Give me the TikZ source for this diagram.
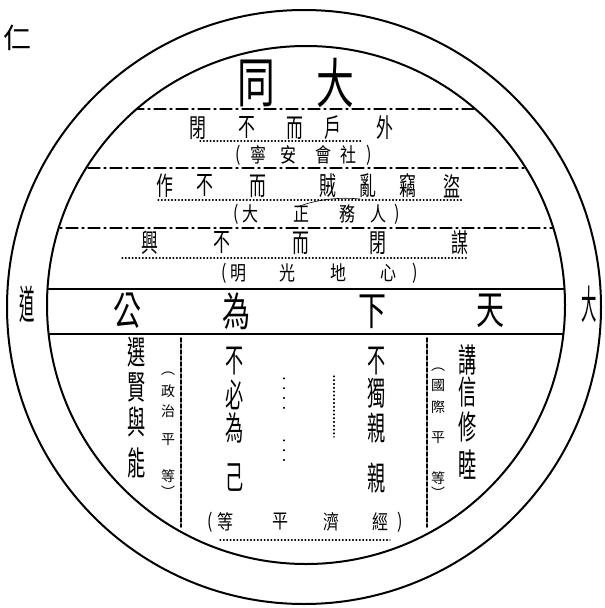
\documentclass[tikz,border=0pt]{standalone}
\usepackage{fontspec}
\newfontfamily\cjk{Noto Sans CJK TC}

\begin{document}
\begin{tikzpicture}[x=1pt, y=-1pt, line join=round, line cap=round,
    bigch/.style={font=\cjk\fontsize{54}{54}\selectfont, inner sep=0pt, xscale=0.7},
    rowch/.style={font=\cjk\fontsize{26}{26}\selectfont, inner sep=0pt, xscale=0.65},
    parch/.style={font=\cjk\fontsize{20}{20}\selectfont, inner sep=0pt, xscale=0.8},
    bandch/.style={font=\cjk\fontsize{40}{40}\selectfont, inner sep=0pt, xscale=0.7},
    colch/.style={font=\cjk\fontsize{33}{33}\selectfont, inner sep=0pt, xscale=0.55},
    smallch/.style={font=\cjk\fontsize{14}{14}\selectfont, inner sep=0pt},
    dashrule/.style={line width=1.1pt, dash pattern=on 12pt off 4pt on 2pt off 4pt},
    dotrule/.style={line width=1.2pt, dash pattern=on 0.8pt off 2.6pt},
    colrule/.style={line width=1.6pt, dash pattern=on 4pt off 2pt}]
      \useasboundingbox (0,0) rectangle (605,608);
      \def\cxo{304}
      \def\cyo{307}
      \def\ro{297}
      \def\cxi{306}
      \def\cyi{305}
      \def\ri{259}

      % the two rings
      \draw[line width=2pt] (\cxo,\cyo) circle[radius=\ro];
      \draw[line width=2pt] (\cxi,\cyi) circle[radius=\ri];

      % rules inside the inner ring
      \begin{scope}
        \clip (\cxi,\cyi) circle[radius=\ri];
        \draw[dashrule] (0,109) -- (605,109);
        \draw[dashrule] (0,168) -- (605,168);
        \draw[dashrule] (0,228) -- (605,228);
        \draw[line width=1.8pt] (0,289) -- (605,289);
        \draw[line width=1.8pt] (0,334) -- (605,334);
      \end{scope}

      % dotted underlines of the rows
      \draw[dotrule] (200,141) -- (363,141);
      \draw[dotrule] (158,200) -- (462,200);
      \draw[dotrule] (122,258) -- (467,258);
      \draw[dotrule] (220,540) -- (390,540);
      \draw[line width=0.6pt] (297,207) .. controls (318,199) and (340,197) .. (360,199);

      % corner mark
      \node[font=\cjk\fontsize{28}{28}\selectfont, inner sep=0pt] (ren) at (17,38) {仁};

      % title
      \node[bigch] (tong) at (256,83) {同};
      \node[bigch] (da) at (335,83) {大};

      % first row
      \foreach \ch/\xx [count=\i] in {閉/198, 不/247, 而/295, 戶/333, 外/385}
        \node[rowch] (ra\i) at (\xx,128) {\ch};
      \foreach \ch/\xx [count=\i] in {{(}/238, 寧/258, 安/288, 會/323, 社/348, {)}/369}
        \node[parch] (pa\i) at (\xx,155) {\ch};

      % second row
      \foreach \ch/\xx [count=\i] in {作/165, 不/205, 而/258, 賊/328, 亂/368, 竊/408, 盜/452}
        \node[rowch] (rb\i) at (\xx,186) {\ch};
      \foreach \ch/\xx [count=\i] in {{(}/236, 大/250, 正/301, 務/347, 人/378, {)}/397}
        \node[parch] (pb\i) at (\xx,214) {\ch};

      % third row
      \foreach \ch/\xx [count=\i] in {興/150, 不/222, 而/301, 閉/378, 謀/460}
        \node[rowch] (rc\i) at (\xx,243) {\ch};
      \foreach \ch/\xx [count=\i] in {{(}/224, 明/238, 光/287, 地/338, 心/388, {)}/415}
        \node[parch] (pc\i) at (\xx,273) {\ch};

      % the band
      \node[bandch] (gong) at (127,311) {公};
      \node[bandch] (wei) at (236,311) {為};
      \node[bandch] (xia) at (372,312) {下};
      \node[bandch] (tian) at (490,311) {天};
      \node[bandch, xscale=0.55] (dao) at (27,304) {道};
      \node[bandch, xscale=0.55] (dada) at (589,304) {大};

      % columns under the band
      \foreach \ch/\yy [count=\i] in {選/352, 賢/387, 與/422, 能/463}
        \node[colch] (ca\i) at (137,\yy) {\ch};
      \foreach \ch/\yy [count=\i] in {︵/374, 政/391, 治/411, 平/440, 等/476, ︶/492}
        \node[smallch] (sa\i) at (168,\yy) {\ch};
      \foreach \ch/\yy [count=\i] in {不/361, 必/395, 為/428, 己/478}
        \node[colch] (cb\i) at (235,\yy) {\ch};
      \foreach \ch/\yy [count=\i] in {不/361, 獨/393, 親/428, 親/478}
        \node[colch] (cc\i) at (377,\yy) {\ch};
      \foreach \ch/\yy [count=\i] in {︵/370, 國/386, 際/407, 平/438, 等/478, ︶/493}
        \node[smallch] (sb\i) at (438,\yy) {\ch};
      \foreach \ch/\yy [count=\i] in {講/360, 信/392, 修/427, 睦/465}
        \node[colch] (cd\i) at (468,\yy) {\ch};

      % bottom row
      \foreach \ch/\xx [count=\i] in {{(}/210, 等/225, 平/280, 濟/331, 經/380, {)}/400}
        \node[parch] (pd\i) at (\xx,522) {\ch};

      % column rules
      \draw[colrule] (181,338) -- (181,527);
      \draw[colrule] (427,338) -- (427,527);
      \draw[dotrule, dash pattern=on 0.8pt off 9pt] (284,378) -- (284,412);
      \draw[dotrule, dash pattern=on 0.8pt off 9pt] (284,440) -- (284,464);
      \draw[dotrule, dash pattern=on 0.8pt off 3pt] (334,376) -- (334,437);
    \end{tikzpicture}
\end{document}
